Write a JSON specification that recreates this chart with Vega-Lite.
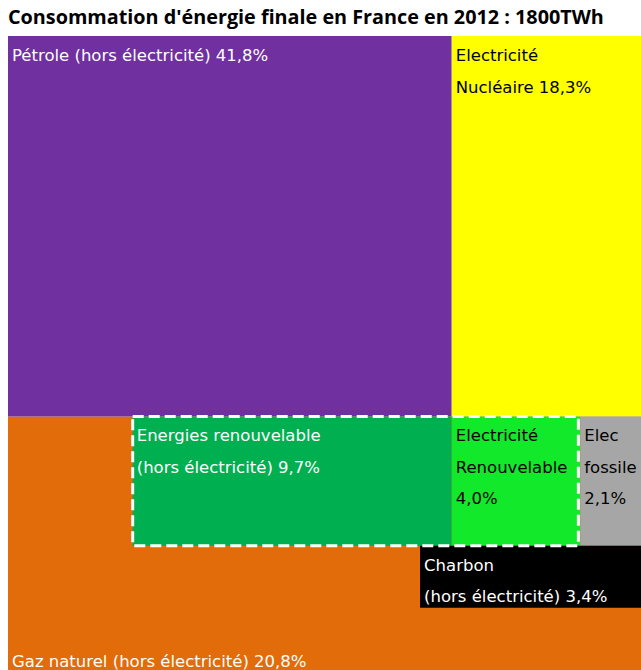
{
  "$schema": "https://vega.github.io/schema/vega-lite/v6.json",
  "width": 633,
  "height": 634,
  "autosize": {"type": "none"},
  "padding": {"left": 8, "top": 36, "right": 0, "bottom": 0},
  "background": "white",
  "title": {
    "text": "Consommation d'énergie finale en France en 2012 : 1800TWh",
    "anchor": "start",
    "frame": "group",
    "offset": 8,
    "font": "Open Sans",
    "fontSize": 19.8,
    "fontWeight": "bold",
    "color": "black"
  },
  "config": {"view": {"stroke": null}},
  "data": {
    "values": [
      {"id": "gaz", "label": "Gaz naturel (hors électricité) 20,8%", "x1": 0, "x2": 100, "y1": 60, "y2": 100},
      {"id": "petrole", "label": "Pétrole (hors électricité) 41,8%", "x1": 0, "x2": 70.1, "y1": 0, "y2": 60},
      {"id": "nucleaire", "label": "Electricité\nNucléaire 18,3%", "x1": 70.1, "x2": 100, "y1": 0, "y2": 60},
      {"id": "enr", "label": "Energies renouvelable\n(hors électricité) 9,7%", "x1": 19.7, "x2": 70.1, "y1": 60, "y2": 80.4},
      {"id": "elecenr", "label": "Electricité\nRenouvelable\n4,0%", "x1": 70.1, "x2": 90.4, "y1": 60, "y2": 80.4},
      {"id": "fossile", "label": "Elec\nfossile\n2,1%", "x1": 90.4, "x2": 100, "y1": 60, "y2": 80.4},
      {"id": "charbon", "label": "Charbon\n(hors électricité) 3,4%", "x1": 65.1, "x2": 100, "y1": 80.4, "y2": 90.2}
    ]
  },
  "layer": [
    {
      "mark": {"type": "rect", "strokeWidth": 0},
      "encoding": {
        "x": {"field": "x1", "type": "quantitative", "scale": {"domain": [0, 100], "nice": false, "zero": false}, "axis": null},
        "x2": {"field": "x2"},
        "y": {"field": "y1", "type": "quantitative", "scale": {"domain": [0, 100], "reverse": true, "nice": false, "zero": false}, "axis": null},
        "y2": {"field": "y2"},
        "fill": {
          "field": "id", "type": "nominal", "legend": null,
          "scale": {
            "domain": ["gaz", "petrole", "nucleaire", "enr", "elecenr", "fossile", "charbon"],
            "range": ["#E26B0A", "#7030A0", "#FFFF00", "#00B050", "#12E92B", "#A6A6A6", "#000000"]
          }
        }
      }
    },
    {
      "transform": [{"filter": "datum.id === 'enr'"}],
      "mark": {"type": "rect", "fill": null, "stroke": "white", "strokeWidth": 3, "strokeDash": [11, 5]},
      "encoding": {
        "x": {"field": "x1", "type": "quantitative"},
        "x2": {"datum": 90.1},
        "y": {"field": "y1", "type": "quantitative"},
        "y2": {"field": "y2"}
      }
    },
    {
      "transform": [{"filter": "datum.id !== 'gaz'"}],
      "mark": {"type": "text", "align": "left", "baseline": "alphabetic", "dx": 4, "dy": 25, "lineBreak": "\n", "lineHeight": 31.5, "font": "DejaVu Sans", "fontSize": 16.5},
      "encoding": {
        "x": {"field": "x1", "type": "quantitative"},
        "y": {"field": "y1", "type": "quantitative"},
        "text": {"field": "label"},
        "color": {
          "field": "id", "type": "nominal", "legend": null,
          "scale": {
            "domain": ["gaz", "petrole", "nucleaire", "enr", "elecenr", "fossile", "charbon"],
            "range": ["white", "white", "black", "white", "black", "black", "white"]
          }
        }
      }
    },
    {
      "transform": [{"filter": "datum.id === 'gaz'"}],
      "mark": {"type": "text", "align": "left", "baseline": "alphabetic", "dx": 4, "dy": -3, "font": "DejaVu Sans", "fontSize": 16.5, "color": "white"},
      "encoding": {
        "x": {"field": "x1", "type": "quantitative"},
        "y": {"field": "y2", "type": "quantitative"},
        "text": {"field": "label"}
      }
    }
  ]
}
